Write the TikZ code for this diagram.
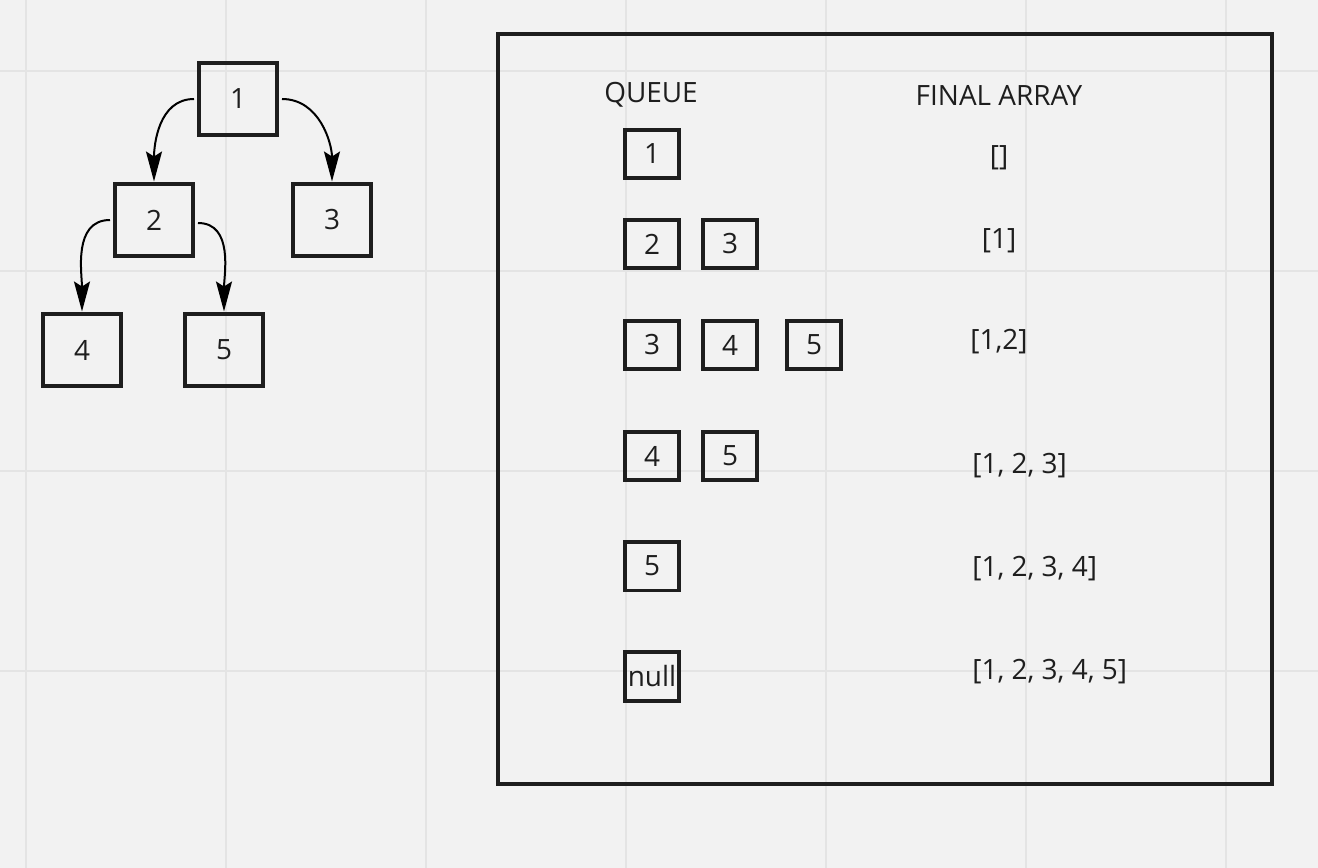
\documentclass[tikz,border=0pt]{standalone}
\usepackage{fontspec}
\setmainfont{Open Sans}
\usetikzlibrary{arrows.meta,positioning}

\definecolor{bgcol}{HTML}{F2F2F2}
\definecolor{gridcol}{HTML}{E4E4E4}
\definecolor{inkcol}{HTML}{1E1E1E}

\tikzset{
  treebox/.style={draw=inkcol, line width=0.08cm, minimum width=1.56cm, minimum height=1.46cm,
    inner sep=0pt, text=inkcol, font=\fontsize{15.9}{19}\selectfont},
  qbox/.style={draw=inkcol, line width=0.08cm, minimum width=1.08cm, minimum height=0.98cm,
    inner sep=0pt, text=inkcol, font=\fontsize{15.9}{19}\selectfont},
  txt/.style={inner sep=0pt, yshift=-0.06cm, text=inkcol, font=\fontsize{15.9}{19}\selectfont},
  childarrow/.style={draw=black, line width=0.04cm, -{Stealth[length=0.6cm,width=0.32cm,inset=0.1cm]}},
}

\begin{document}
\begin{tikzpicture}[x=0.02cm, y=-0.02cm]
    % Background and grid
    \fill[bgcol] (0,0) rectangle (1318,868);
    \useasboundingbox (0,0) rectangle (1318,868);
    \foreach \gx in {26,226,...,1226}
        \draw[gridcol, line width=0.04cm] (\gx,0) -- (\gx,868);
    \foreach \gy in {71,271,...,671}
        \draw[gridcol, line width=0.04cm] (0,\gy) -- (1318,\gy);

    % Tree
    \node[treebox] (t1) at (238,99) {1};
    \node[treebox] (t2) at (154,220) {2};
    \node[treebox] (t3) at (332,220) {3};
    \node[treebox] (t4) at (82,350) {4};
    \node[treebox] (t5) at (224,350) {5};

    \draw[childarrow] ([xshift=-0.06cm]t1.west) to[out=180, in=90] (t2.north);
    \draw[childarrow] ([xshift=0.06cm]t1.east) to[out=0, in=90] (t3.north);
    \draw[childarrow] ([xshift=-0.06cm]t2.west) to[out=180, in=90] (t4.north);
    \draw[childarrow] ([xshift=0.06cm, yshift=-0.06cm]t2.east) to[out=0, in=90] (t5.north);

    % Frame
    \draw[inkcol, line width=0.08cm] (498,34) rectangle (1272,784);

    % Headings
    \node[txt] (queuehead) at (651,92) {QUEUE};
    \node[txt] (finalhead) at (999,92) {FINAL ARRAY};

    % Queue rows
    \node[qbox] (qa1) at (652,154) {1};
    \node[qbox] (qb1) at (652,244) {2};
    \node[qbox] (qb2) at (730,244) {3};
    \node[qbox] (qc1) at (652,345) {3};
    \node[qbox] (qc2) at (730,345) {4};
    \node[qbox] (qc3) at (814,345) {5};
    \node[qbox] (qd1) at (652,456) {4};
    \node[qbox] (qd2) at (730,456) {5};
    \node[qbox] (qe1) at (652,566) {5};
    \node[qbox] (qf1) at (652,676) {null};

    % Final array states
    \node[txt] (fa) at (999,155) {[]};
    \node[txt] (fb) at (999,238) {[1]};
    \node[txt] (fc) at (999,339) {[1,2]};
    \node[txt, anchor=west] (fd) at (972,463) {[1, 2, 3]};
    \node[txt, anchor=west] (fe) at (972,566) {[1, 2, 3, 4]};
    \node[txt, anchor=west] (ff) at (972,669) {[1, 2, 3, 4, 5]};
\end{tikzpicture}
\end{document}
